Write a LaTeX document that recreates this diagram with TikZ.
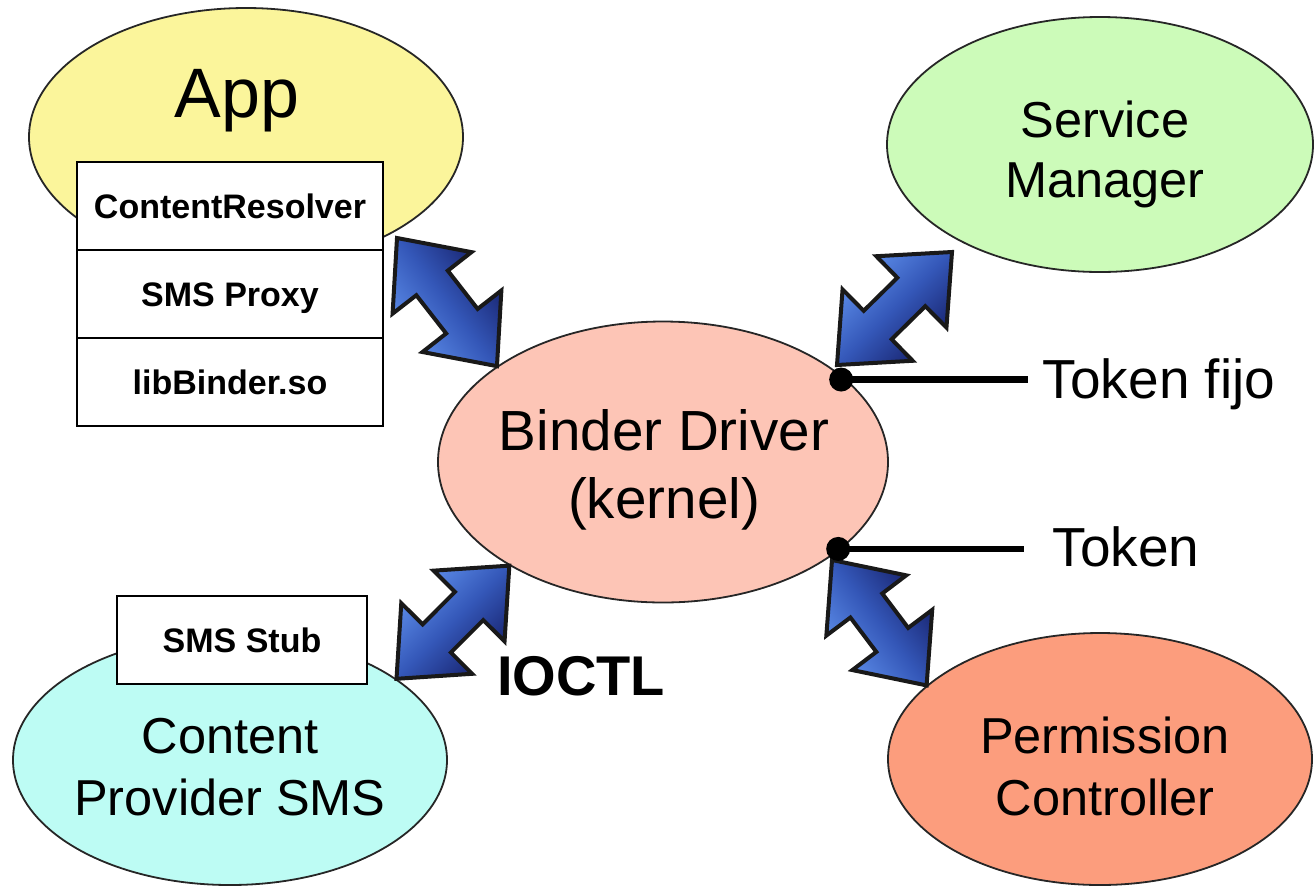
\documentclass[tikz,border=0pt]{standalone}
\usepackage{fontspec}
\setmainfont{Liberation Sans}
\usetikzlibrary{shapes.geometric,calc}

\definecolor{appfill}{HTML}{FBF59B}
\definecolor{smfill}{HTML}{CCFBB9}
\definecolor{binderfill}{HTML}{FDC5B6}
\definecolor{cpfill}{HTML}{BDFCF4}
\definecolor{pcfill}{HTML}{FC9D7D}
\definecolor{arrlight}{HTML}{5F90EC}
\definecolor{arrmid}{HTML}{3457B8}
\definecolor{arrdark}{HTML}{16206A}

% Double-headed block arrow between two tips; #3 is the shading angle
\newcommand{\ipcarrow}[3]{%
  \draw[ipc, shading angle=#3]
    (#1) -- ($(#1)!75.8pt!41.3:(#2)$) -- ($(#1)!60.4pt!19.3:(#2)$)
    -- ($(#2)!60.4pt!-19.3:(#1)$) -- ($(#2)!75.8pt!-41.3:(#1)$)
    -- (#2) -- ($(#2)!75.8pt!41.3:(#1)$) -- ($(#2)!60.4pt!19.3:(#1)$)
    -- ($(#1)!60.4pt!-19.3:(#2)$) -- ($(#1)!75.8pt!-41.3:(#2)$) -- cycle;}

\tikzset{
  proc/.style={ellipse, draw=black!85, line width=1.8pt, inner sep=0pt},
  lbl/.style={anchor=base, inner sep=0pt, font=\fontsize{50.5}{60}\selectfont},
  cell/.style={draw=black, line width=2.5pt, fill=white, minimum width=306pt,
    minimum height=88pt, inner sep=0pt, text height=24.3pt, text depth=0pt,
    font=\bfseries\fontsize{34}{40}\selectfont},
  tok/.style={anchor=base, inner ysep=0pt, font=\fontsize{55}{66}\selectfont},
  ipc/.style={draw=black!90, line width=4pt, line join=miter,
    top color=arrdark, bottom color=arrlight, middle color=arrmid},
  tokline/.style={line width=6.5pt},
}

\begin{document}
\begin{tikzpicture}[x=1pt, y=-1pt]
\useasboundingbox (0,0) rectangle (1314,887);

% processes
\node[proc, fill=appfill, minimum width=434pt, minimum height=258pt] (app) at (246,137) {};
\node[proc, fill=smfill, minimum width=426pt, minimum height=255pt] (sm) at (1100,144.5) {};
\node[proc, fill=binderfill, minimum width=450pt, minimum height=281pt] (binder) at (663,462) {};
\node[proc, fill=cpfill, minimum width=434pt, minimum height=250pt] (cp) at (230,760) {};
\node[proc, fill=pcfill, minimum width=424pt, minimum height=252pt] (pc) at (1100,759) {};

% labels
\node[lbl, font=\fontsize{70}{84}\selectfont] (applbl) at (237,117) {App};
\node[lbl] (sm1) at (1105,137) {Service};
\node[lbl] (sm2) at (1105,197) {Manager};
\node[lbl, font=\fontsize{56.6}{68}\selectfont] (bd1) at (664,450) {Binder Driver};
\node[lbl, font=\fontsize{56.6}{68}\selectfont] (bd2) at (664,518) {(kernel)};
\node[lbl] (cp1) at (230,753) {Content};
\node[lbl] (cp2) at (230,815) {Provider SMS};
\node[lbl] (pc1) at (1105,753) {Permission};
\node[lbl] (pc2) at (1105,815) {Controller};

% app-side stack and stub
\node[cell] (cr) at (230,206) {ContentResolver};
\node[cell] (proxy) at (230,294) {SMS Proxy};
\node[cell] (lib) at (230,382) {libBinder.so};
\node[cell, minimum width=250pt] (stub) at (242,640) {SMS Stub};

% arrow tips
\coordinate (a1o) at (397,238);
\coordinate (a1i) at (binder.150.5);
\coordinate (a2o) at (952,252);
\coordinate (a2i) at (837,365);
\coordinate (a3o) at (cp.26.4);
\coordinate (a3i) at (binder.214.1);
\coordinate (a4o) at (pc.157.3);
\coordinate (a4i) at (832,560);

\ipcarrow{a1o}{a1i}{-53}
\ipcarrow{a2o}{a2i}{-135}
\ipcarrow{a3i}{a3o}{-135}
\ipcarrow{a4i}{a4o}{-53}

\node[anchor=base, inner sep=0pt, font=\bfseries\fontsize{56}{67}\selectfont] (ioctl) at (581,695) {IOCTL};

% tokens
\node[tok, inner xsep=15pt] (tf) at (1159,398) {Token fijo};
\node[tok, inner xsep=28pt] (tk) at (1126,566) {Token};
\coordinate (d1) at ([xshift=-3pt,yshift=-2pt]binder.25.8);
\coordinate (d2) at ([xshift=-3pt]binder.-26);
\draw[tokline] (d1) -- (d1 -| tf.west);
\draw[tokline] (d2) -- (d2 -| tk.west);
\fill (d1) circle (12pt);
\fill (d2) circle (12pt);
\end{tikzpicture}
\end{document}
